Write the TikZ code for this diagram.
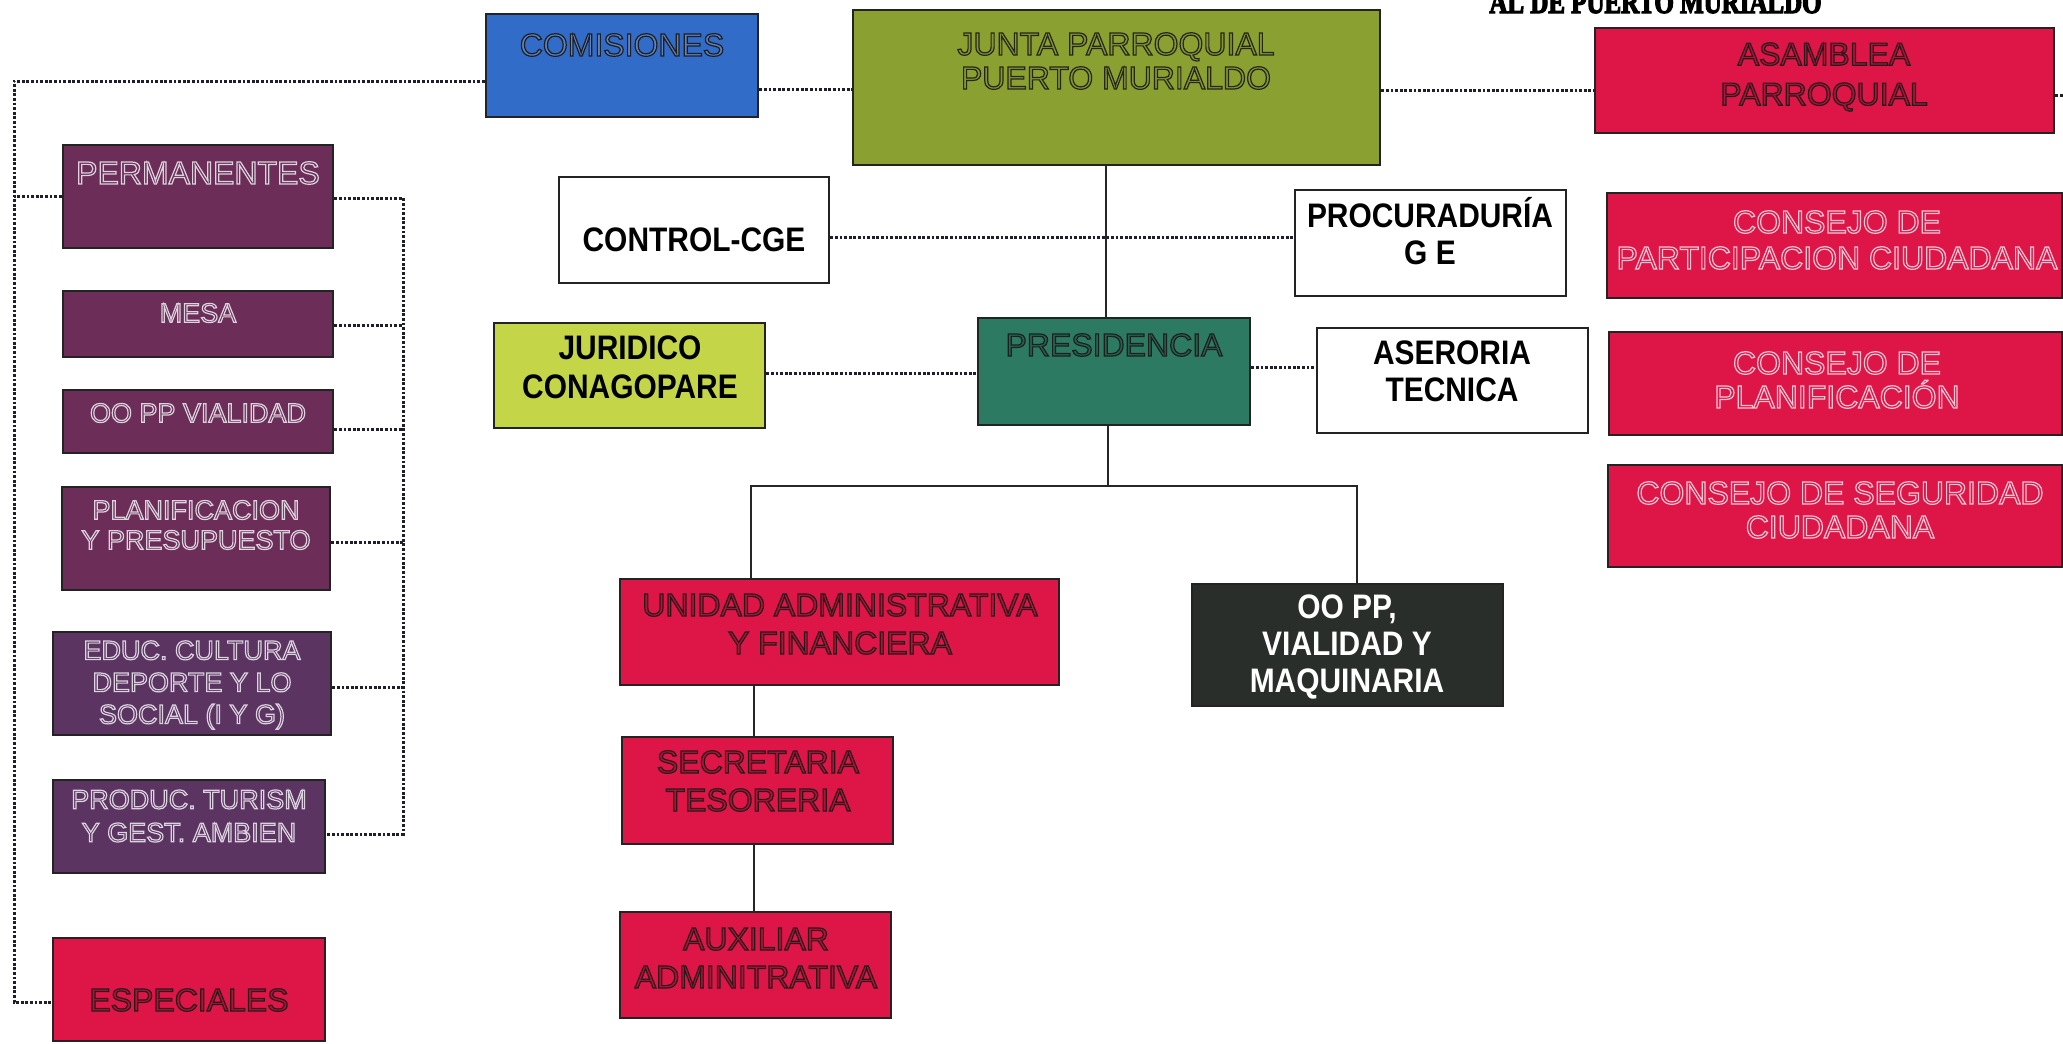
\documentclass[tikz,border=0pt]{standalone}
\usepackage{fontspec}
\setmainfont{Liberation Sans}
\newfontfamily\nar{Liberation Sans}[FakeStretch=0.88]
\newfontfamily\ttlfont{Liberation Serif}[FakeStretch=0.78]
\definecolor{blueC}{RGB}{48,108,200}
\definecolor{greenC}{RGB}{138,160,48}
\definecolor{redC}{RGB}{222,22,72}
\definecolor{purC}{RGB}{108,46,88}
\definecolor{purD}{RGB}{92,52,98}
\definecolor{tealC}{RGB}{45,122,98}
\definecolor{limeC}{RGB}{196,214,72}
\definecolor{darkC}{RGB}{42,46,42}
\definecolor{borderC}{RGB}{35,35,35}
\definecolor{dotC}{RGB}{30,30,45}
% outlined (engraved-like) text: stroke colour given as "r g b"
\newcommand\emb[2]{\special{pdf:literal direct 2 Tr 0.6 w #1 RG}#2\special{pdf:literal direct 0 Tr}}
\newcommand\bx[6]{\node[box,#6,minimum width={(#4-#2)*0.5pt},minimum height={(#5-#3)*0.5pt}] (#1) at ({(#2+#4)/2},{(#3+#5)/2}) {};}
\tikzset{
  box/.style={draw=borderC, line width=1.4pt, inner sep=0pt},
  lbl/.style={inner sep=0pt, align=center, font=\fontsize{16}{19}\selectfont},
  slbl/.style={inner sep=0pt, align=center, font=\fontsize{13.5}{16}\selectfont},
  wlbl/.style={inner sep=0pt, align=center, font=\nar\bfseries\fontsize{17}{18.5}\selectfont},
  dots/.style={draw=dotC, line width=1.5pt, dash pattern=on 1.4pt off 0.9pt},
  solidline/.style={draw=black!85, line width=1pt},
}
\begin{document}
\begin{tikzpicture}[x=0.5pt,y=-0.5pt]
\fill[white] (0,0) rectangle (2063,1044);
\useasboundingbox (0,0) rectangle (2063,1044);

% partially visible title at the top edge (cut by the page edge, as in the scan)
\begin{scope}
\clip (1440,0) rectangle (1840,15);
\node[anchor=base east, inner sep=0pt, font=\ttlfont\bfseries\fontsize{16}{18}\selectfont] (title) at (1822,13) {\emb{0 0 0}{AL DE PUERTO MURIALDO}};
\end{scope}

% boxes
\bx{com}{486}{14}{758}{117}{fill=blueC}
\bx{jun}{853}{10}{1380}{165}{fill=greenC}
\bx{asa}{1595}{28}{2054}{133}{fill=redC}
\bx{per}{63}{145}{333}{248}{fill=purC}
\bx{mes}{63}{291}{333}{357}{fill=purC}
\bx{oop}{63}{390}{333}{453}{fill=purC}
\bx{pla}{62}{487}{330}{590}{fill=purC}
\bx{edu}{53}{632}{331}{735}{fill=purD}
\bx{pro}{53}{780}{325}{873}{fill=purD}
\bx{esp}{53}{938}{325}{1041}{fill=redC}
\bx{ctl}{559}{177}{829}{283}{fill=white}
\bx{prc}{1295}{190}{1566}{296}{fill=white}
\bx{pre}{978}{318}{1250}{425}{fill=tealC}
\bx{jur}{494}{323}{765}{428}{fill=limeC}
\bx{ase}{1317}{328}{1588}{433}{fill=white}
\bx{cpc}{1607}{193}{2062}{298}{fill=redC}
\bx{cpl}{1609}{332}{2062}{435}{fill=redC}
\bx{csg}{1608}{465}{2062}{567}{fill=redC}
\bx{uni}{620}{579}{1059}{685}{fill=redC}
\bx{obr}{1192}{584}{1503}{706}{fill=darkC}
\bx{sec}{622}{737}{893}{844}{fill=redC}
\bx{aux}{620}{912}{891}{1018}{fill=redC}

% texts
\node[lbl, text={rgb,255:red,95;green,130;blue,195}] (comT) at (622,45) {\emb{0.12 0.12 0.12}{COMISIONES}};
\node[lbl, text={rgb,255:red,130;green,150;blue,55}, font=\fontsize{16}{17}\selectfont] (junT) at (1116,61) {\emb{0.15 0.15 0.1}{JUNTA PARROQUIAL\\PUERTO MURIALDO}};
\node[lbl, text=redC!80!black, font=\fontsize{16}{20}\selectfont] (asaT) at (1824,77) {\emb{0.15 0.1 0.1}{ASAMBLEA\\PARROQUIAL}};
\node[lbl, text=purC] (perT) at (198,173) {\emb{0.86 0.83 0.87}{PERMANENTES}};
\node[slbl, text=purC] (mesT) at (198,313) {\emb{0.86 0.83 0.87}{MESA}};
\node[slbl, text=purC] (oopT) at (198,413) {\emb{0.86 0.83 0.87}{OO PP VIALIDAD}};
\node[slbl, text=purC, font=\fontsize{13.5}{15}\selectfont] (plaT) at (196,525) {\emb{0.86 0.83 0.87}{PLANIFICACION\\Y PRESUPUESTO}};
\node[slbl, text=purD] (eduT) at (192,685) {\emb{0.86 0.83 0.87}{EDUC. CULTURA\\DEPORTE Y LO\\SOCIAL (I Y G)}};
\node[slbl, text=purD, font=\fontsize{13.5}{16.5}\selectfont] (proT) at (189,816) {\emb{0.86 0.83 0.87}{PRODUC. TURISM\\Y GEST. AMBIEN}};
\node[lbl, text=redC!80!black] (espT) at (189,1000) {\emb{0.15 0.1 0.1}{ESPECIALES}};
\node[wlbl] (ctlT) at (694,240) {CONTROL-CGE};
\node[wlbl] (prcT) at (1430,231) {PROCURADURÍA\\G E};
\node[lbl, text=tealC!80!black] (preT) at (1114,345) {\emb{0.12 0.12 0.12}{PRESIDENCIA}};
\node[wlbl, font=\nar\bfseries\fontsize{17}{19.5}\selectfont] (jurT) at (630,367) {JURIDICO\\CONAGOPARE};
\node[wlbl] (aseT) at (1452,371) {ASERORIA\\TECNICA};
\node[lbl, text=redC, font=\fontsize{16}{18}\selectfont] (cpcT) at (1837,240) {\emb{0.97 0.78 0.83}{CONSEJO DE\\PARTICIPACION CIUDADANA}};
\node[lbl, text=redC, font=\fontsize{16}{17}\selectfont] (cplT) at (1837,380) {\emb{0.97 0.78 0.83}{CONSEJO DE\\PLANIFICACIÓN}};
\node[lbl, text=redC, font=\fontsize{16}{17}\selectfont] (csgT) at (1840,510) {\emb{0.97 0.78 0.83}{CONSEJO DE SEGURIDAD\\CIUDADANA}};
\node[lbl, text=redC!80!black] (uniT) at (840,624) {\emb{0.15 0.1 0.1}{UNIDAD ADMINISTRATIVA\\Y FINANCIERA}};
\node[wlbl, text=white, font=\nar\bfseries\fontsize{17}{18.5}\selectfont] (obrT) at (1347,647) {OO PP,\\VIALIDAD Y\\MAQUINARIA};
\node[lbl, text=redC!80!black] (secT) at (758,781) {\emb{0.15 0.1 0.1}{SECRETARIA\\TESORERIA}};
\node[lbl, text=redC!80!black] (auxT) at (756,958) {\emb{0.15 0.1 0.1}{AUXILIAR\\ADMINITRATIVA}};

% dotted connectors
\coordinate (lt) at (14,81);
\coordinate (lp) at (14,196);
\coordinate (lb) at (14,1002);
\draw[dots] (com.west |- lt) -- (lt) -- (lb) -- (esp.west |- lb);
\draw[dots] (per.west |- lp) -- (lp);
\coordinate (cj) at (800,89);
\draw[dots] (com.east |- cj) -- (jun.west |- cj);
\coordinate (ja) at (1500,90);
\draw[dots] (jun.east |- ja) -- (asa.west |- ja);
\coordinate (ae) at (2063,95);
\draw[dots] (asa.east |- ae) -- (ae);
\coordinate (r1) at (403,198);
\coordinate (r2) at (403,325);
\coordinate (r3) at (403,429);
\coordinate (r4) at (403,542);
\coordinate (r5) at (403,687);
\coordinate (r6) at (403,834);
\draw[dots] (per.east |- r1) -- (r1) -- (r6) -- (pro.east |- r6);
\draw[dots] (mes.east |- r2) -- (r2);
\draw[dots] (oop.east |- r3) -- (r3);
\draw[dots] (pla.east |- r4) -- (r4);
\draw[dots] (edu.east |- r5) -- (r5);
\coordinate (cp) at (1000,237);
\draw[dots] (ctl.east |- cp) -- (prc.west |- cp);
\coordinate (jp) at (850,373);
\draw[dots] (jur.east |- jp) -- (pre.west |- jp);
\coordinate (pa) at (1280,367);
\draw[dots] (pre.east |- pa) -- (ase.west |- pa);

% solid connectors
\coordinate (vj) at (1106,0);
\draw[solidline] (vj |- jun.south) -- (vj |- pre.north);
\coordinate (bm) at (1108,486);
\coordinate (bl) at (751,486);
\coordinate (br) at (1357,486);
\draw[solidline] (bm |- pre.south) -- (bm);
\draw[solidline] (uni.north -| bl) -- (bl) -- (br) -- (obr.north -| br);
\coordinate (vs) at (754,0);
\draw[solidline] (vs |- uni.south) -- (vs |- sec.north);
\draw[solidline] (vs |- sec.south) -- (vs |- aux.north);
\end{tikzpicture}
\end{document}
